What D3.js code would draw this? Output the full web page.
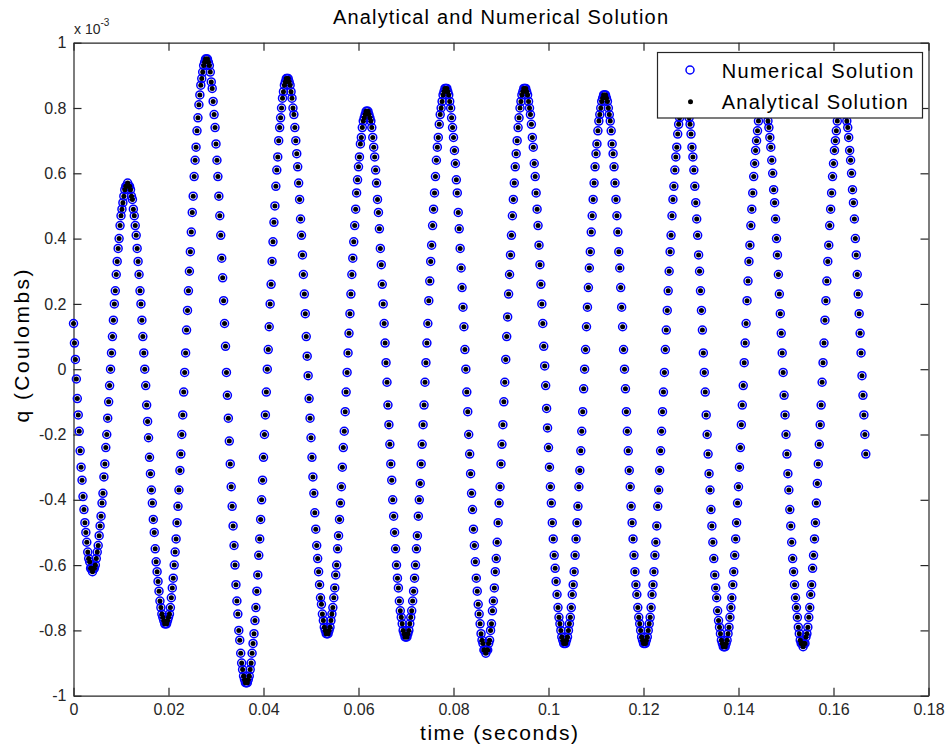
<!DOCTYPE html>
<html>
<head>
<meta charset="utf-8">
<script src="https://cdn.jsdelivr.net/npm/d3@7"></script>
<style>
  html, body { margin: 0; padding: 0; background: #fff; }
  svg { display: block; font-family: "Liberation Sans", Arial, Helvetica, sans-serif; }
</style>
</head>
<body>
<svg id="chart" width="947" height="747"></svg>
<script>
// solver output step (s); sample i sits at t = i * timeStep
const timeStep = 0.0002;

// charge q in units of 1e-3 C, one half-cycle per line
const qNumerical = [
  0.14,0.08,0.03,-0.03,-0.09,-0.14,-0.19,-0.25,-0.30,-0.34,-0.39,-0.43,-0.47,-0.50,-0.53,-0.56,-0.58,-0.59,-0.61,-0.61,-0.62,
  -0.61,-0.61,-0.60,-0.58,-0.56,-0.54,-0.51,-0.48,-0.45,-0.41,-0.38,-0.33,-0.29,-0.24,-0.20,-0.15,-0.10,-0.05,0.00,0.05,0.10,0.15,0.20,0.24,0.29,0.33,0.37,0.40,0.44,0.47,0.49,0.51,0.53,0.55,0.56,0.56,0.57,
  0.56,0.56,0.55,0.53,0.52,0.49,0.47,0.44,0.41,0.37,0.33,0.29,0.24,0.20,0.15,0.10,0.05,0.00,-0.05,-0.11,-0.16,-0.21,-0.27,-0.32,-0.37,-0.41,-0.46,-0.50,-0.55,-0.59,-0.62,-0.65,-0.68,-0.71,-0.73,-0.75,-0.76,-0.77,-0.78,-0.78,
  -0.78,-0.77,-0.76,-0.75,-0.73,-0.70,-0.67,-0.64,-0.60,-0.56,-0.52,-0.47,-0.42,-0.37,-0.31,-0.26,-0.20,-0.14,-0.07,-0.01,0.05,0.12,0.18,0.24,0.30,0.36,0.42,0.48,0.53,0.59,0.64,0.68,0.73,0.77,0.81,0.84,0.87,0.89,0.91,0.93,0.94,0.95,0.95,
  0.95,0.94,0.93,0.91,0.88,0.86,0.82,0.78,0.74,0.69,0.64,0.59,0.53,0.47,0.41,0.34,0.28,0.21,0.14,0.07,-0.01,-0.08,-0.15,-0.22,-0.29,-0.36,-0.42,-0.48,-0.54,-0.60,-0.66,-0.71,-0.75,-0.80,-0.83,-0.87,-0.90,-0.92,-0.94,-0.95,-0.96,-0.96,
  -0.96,-0.95,-0.94,-0.92,-0.90,-0.87,-0.84,-0.81,-0.77,-0.73,-0.68,-0.63,-0.57,-0.52,-0.46,-0.40,-0.34,-0.27,-0.20,-0.14,-0.07,0.00,0.06,0.13,0.20,0.26,0.33,0.39,0.45,0.50,0.56,0.61,0.65,0.70,0.74,0.77,0.80,0.83,0.85,0.87,0.88,0.89,0.89,
  0.89,0.88,0.87,0.85,0.83,0.80,0.78,0.74,0.70,0.66,0.62,0.57,0.52,0.46,0.41,0.35,0.29,0.23,0.17,0.10,0.04,-0.02,-0.09,-0.15,-0.21,-0.27,-0.33,-0.38,-0.44,-0.49,-0.54,-0.58,-0.62,-0.66,-0.70,-0.72,-0.75,-0.77,-0.79,-0.80,-0.81,-0.81,
  -0.81,-0.80,-0.79,-0.77,-0.75,-0.73,-0.70,-0.67,-0.63,-0.60,-0.55,-0.51,-0.46,-0.41,-0.36,-0.30,-0.24,-0.19,-0.13,-0.07,-0.01,0.05,0.11,0.17,0.23,0.29,0.34,0.39,0.44,0.49,0.54,0.58,0.62,0.65,0.69,0.71,0.74,0.76,0.77,0.78,0.79,0.79,
  0.79,0.78,0.77,0.76,0.74,0.71,0.68,0.65,0.61,0.57,0.52,0.48,0.43,0.37,0.32,0.26,0.20,0.14,0.08,0.02,-0.04,-0.11,-0.17,-0.23,-0.29,-0.34,-0.40,-0.45,-0.50,-0.55,-0.60,-0.64,-0.67,-0.71,-0.74,-0.76,-0.78,-0.80,-0.81,-0.82,-0.82,
  -0.82,-0.81,-0.80,-0.78,-0.76,-0.74,-0.71,-0.68,-0.64,-0.60,-0.55,-0.51,-0.45,-0.40,-0.35,-0.29,-0.23,-0.17,-0.11,-0.04,0.02,0.08,0.14,0.21,0.27,0.33,0.38,0.44,0.49,0.54,0.59,0.64,0.68,0.71,0.75,0.78,0.80,0.82,0.84,0.85,0.86,0.86,
  0.86,0.85,0.84,0.82,0.80,0.77,0.74,0.71,0.67,0.63,0.58,0.54,0.48,0.43,0.37,0.31,0.25,0.19,0.13,0.06,0.00,-0.07,-0.13,-0.20,-0.26,-0.32,-0.38,-0.43,-0.49,-0.54,-0.59,-0.64,-0.68,-0.72,-0.75,-0.78,-0.81,-0.83,-0.84,-0.86,-0.86,-0.87,
  -0.86,-0.86,-0.84,-0.83,-0.80,-0.78,-0.74,-0.71,-0.67,-0.62,-0.58,-0.53,-0.47,-0.41,-0.36,-0.29,-0.23,-0.17,-0.10,-0.04,0.03,0.10,0.16,0.23,0.29,0.35,0.41,0.47,0.52,0.57,0.62,0.66,0.70,0.74,0.77,0.80,0.82,0.84,0.85,0.86,0.86,
  0.86,0.85,0.84,0.82,0.80,0.78,0.75,0.71,0.68,0.63,0.59,0.54,0.49,0.44,0.38,0.32,0.26,0.20,0.14,0.07,0.01,-0.05,-0.12,-0.18,-0.24,-0.30,-0.36,-0.41,-0.47,-0.52,-0.57,-0.61,-0.65,-0.69,-0.73,-0.76,-0.78,-0.80,-0.82,-0.83,-0.84,-0.84,
  -0.84,-0.83,-0.82,-0.80,-0.78,-0.76,-0.73,-0.69,-0.66,-0.62,-0.57,-0.52,-0.47,-0.42,-0.36,-0.31,-0.25,-0.19,-0.13,-0.06,0.00,0.06,0.13,0.19,0.25,0.31,0.36,0.42,0.47,0.52,0.57,0.62,0.66,0.69,0.73,0.76,0.78,0.80,0.82,0.83,0.84,0.84,
  0.84,0.83,0.82,0.80,0.78,0.76,0.73,0.69,0.66,0.62,0.57,0.52,0.47,0.42,0.36,0.31,0.25,0.19,0.13,0.06,0.00,-0.06,-0.13,-0.19,-0.25,-0.31,-0.36,-0.42,-0.47,-0.52,-0.57,-0.62,-0.66,-0.69,-0.73,-0.76,-0.78,-0.80,-0.82,-0.83,-0.84,-0.84,
  -0.84,-0.83,-0.82,-0.80,-0.78,-0.76,-0.73,-0.69,-0.66,-0.62,-0.57,-0.53,-0.48,-0.42,-0.37,-0.31,-0.25,-0.19,-0.13,-0.07,-0.01,0.06,0.12,0.18,0.24,0.30,0.36,0.41,0.47,0.52,0.56,0.61,0.65,0.68,0.72,0.75,0.77,0.79,0.81,0.82,0.83,0.83,
  0.83,0.82,0.81,0.79,0.77,0.75,0.72,0.68,0.65,0.61,0.56,0.51,0.46,0.41,0.35,0.30,0.24,0.18,0.12,0.05,-0.01,-0.07,-0.14,-0.20,-0.26,-0.32,-0.37,-0.43,-0.48,-0.53,-0.58,-0.63,-0.67,-0.70,-0.74,-0.77,-0.79,-0.81,-0.83,-0.84,-0.85,-0.85,
  -0.85,-0.84,-0.83,-0.81,-0.79,-0.76,-0.73,-0.70,-0.66,-0.62,-0.57,-0.52,-0.47,-0.41,-0.36,-0.30,-0.24,-0.17,-0.11,-0.05,0.02,0.08,0.14,0.21,0.27,0.33,0.38,0.44,0.49,0.54,0.59,0.63,0.67,0.70,0.73,0.76,0.78,0.80,0.81,0.82,0.82,
  0.82,0.81,0.80,0.78,0.76,0.74,0.71,0.68,0.64,0.60,0.55,0.51,0.46,0.40,0.35,0.29,0.23,0.17,0.11,0.05,-0.01,-0.08,-0.14,-0.20,-0.26,-0.32,-0.37,-0.43,-0.48,-0.53,-0.58,-0.62,-0.66,-0.70,-0.73,-0.76,-0.79,-0.81,-0.83,-0.84,-0.84,-0.85,
  -0.84,-0.84,-0.82,-0.81,-0.79,-0.76,-0.73,-0.69,-0.66,-0.61,-0.57,-0.52,-0.47,-0.41,-0.35,-0.29,-0.23,-0.17,-0.11,-0.04,0.02,0.08,0.15,0.21,0.27,0.33,0.38,0.44,0.49,0.54,0.59,0.63,0.67,0.70,0.73,0.76,0.78,0.80,0.81,0.82,0.82,
  0.82,0.81,0.80,0.78,0.76,0.74,0.71,0.67,0.64,0.60,0.55,0.51,0.46,0.40,0.35,0.29,0.23,0.17,0.11,0.05,-0.02,-0.08,-0.14,-0.20,-0.26
];
// the analytical curve sits right on top of the numerical one at this scale
const qAnalytical = qNumerical;

const xTicks = [0, 0.02, 0.04, 0.06, 0.08, 0.10, 0.12, 0.14, 0.16, 0.18];
const xTickLabels = ["0", "0.02", "0.04", "0.06", "0.08", "0.1", "0.12", "0.14", "0.16", "0.18"];
const yTicks = [-1, -0.8, -0.6, -0.4, -0.2, 0, 0.2, 0.4, 0.6, 0.8, 1];
const yTickLabels = ["-1", "-0.8", "-0.6", "-0.4", "-0.2", "0", "0.2", "0.4", "0.6", "0.8", "1"];
const seriesNames = ["Numerical Solution", "Analytical Solution"];

const width = 947, height = 747;
const margin = { top: 42.7, right: 18.5, bottom: 51.3, left: 73.5 };

const svg = d3.select("#chart");
svg.append("rect").attr("width", width).attr("height", height).attr("fill", "#fff");

const x = d3.scaleLinear().domain([0, 0.18]).range([margin.left, width - margin.right]);
const y = d3.scaleLinear().domain([-1, 1]).range([height - margin.bottom, margin.top]);

// axes box, ticks pointing inward on all four sides
function styleAxis(g) {
    g.attr("font-size", 16)
        .attr("font-family", "'Liberation Sans', Arial, sans-serif")
        .attr("color", "#262626");
    g.selectAll(".domain, .tick line").attr("stroke-width", 1.2);
}

svg.append("g")
    .attr("transform", `translate(0,${y(-1)})`)
    .call(d3.axisBottom(x).tickValues(xTicks).tickFormat((d, i) => xTickLabels[i])
        .tickSizeInner(-8).tickSizeOuter(0).tickPadding(8))
    .call(styleAxis);

svg.append("g")
    .attr("transform", `translate(0,${y(1)})`)
    .call(d3.axisTop(x).tickValues(xTicks).tickFormat(() => "")
        .tickSizeInner(-8).tickSizeOuter(0))
    .call(styleAxis);

svg.append("g")
    .attr("transform", `translate(${x(0)},0)`)
    .call(d3.axisLeft(y).tickValues(yTicks).tickFormat((d, i) => yTickLabels[i])
        .tickSizeInner(-8).tickSizeOuter(0).tickPadding(7))
    .call(styleAxis);

svg.append("g")
    .attr("transform", `translate(${x(0.18)},0)`)
    .call(d3.axisRight(y).tickValues(yTicks).tickFormat(() => "")
        .tickSizeInner(-8).tickSizeOuter(0))
    .call(styleAxis);

// exponent label
svg.append("text")
    .attr("x", 74).attr("y", 34)
    .attr("font-size", 14).attr("fill", "#262626")
    .text("x 10")
    .append("tspan").attr("font-size", 10).attr("dy", -8).text("-3");

// markers
const plot = svg.append("g");
plot.selectAll("circle.num")
    .data(qNumerical).join("circle")
    .attr("class", "num")
    .attr("cx", (d, i) => x(i * timeStep))
    .attr("cy", d => y(d))
    .attr("r", 4)
    .attr("fill", "none")
    .attr("stroke", "#0000ff")
    .attr("stroke-width", 1.5);

plot.selectAll("circle.ana")
    .data(qAnalytical).join("circle")
    .attr("class", "ana")
    .attr("cx", (d, i) => x(i * timeStep))
    .attr("cy", d => y(d))
    .attr("r", 2.5)
    .attr("fill", "#000");

// title and labels
svg.append("text")
    .attr("x", 500.5).attr("y", 24)
    .attr("text-anchor", "middle")
    .attr("font-size", 20)
    .attr("textLength", 335).attr("lengthAdjust", "spacing")
    .text("Analytical and Numerical Solution");

svg.append("text")
    .attr("x", 499).attr("y", 740)
    .attr("text-anchor", "middle")
    .attr("font-size", 21)
    .attr("textLength", 158).attr("lengthAdjust", "spacing")
    .text("time (seconds)");

svg.append("text")
    .attr("transform", "translate(29,346) rotate(-90)")
    .attr("text-anchor", "middle")
    .attr("font-size", 21)
    .attr("textLength", 153).attr("lengthAdjust", "spacing")
    .text("q (Coulombs)");

// legend
const legend = svg.append("g");
legend.append("rect")
    .attr("x", 657.5).attr("y", 52.5)
    .attr("width", 265).attr("height", 65.5)
    .attr("fill", "#fff").attr("stroke", "#262626").attr("stroke-width", 1.2);

legend.append("circle")
    .attr("cx", 690).attr("cy", 70).attr("r", 4)
    .attr("fill", "none").attr("stroke", "#0000ff").attr("stroke-width", 1.5);
legend.append("circle")
    .attr("cx", 690.5).attr("cy", 101.7).attr("r", 2.5)
    .attr("fill", "#000");

const legendWidths = [191.6, 186];
seriesNames.forEach((name, i) => {
    legend.append("text")
        .attr("x", 721.7).attr("y", 77.5 + i * 31.7)
        .attr("font-size", 20)
        .attr("textLength", legendWidths[i]).attr("lengthAdjust", "spacing")
        .text(name);
});
</script>
</body>
</html>
